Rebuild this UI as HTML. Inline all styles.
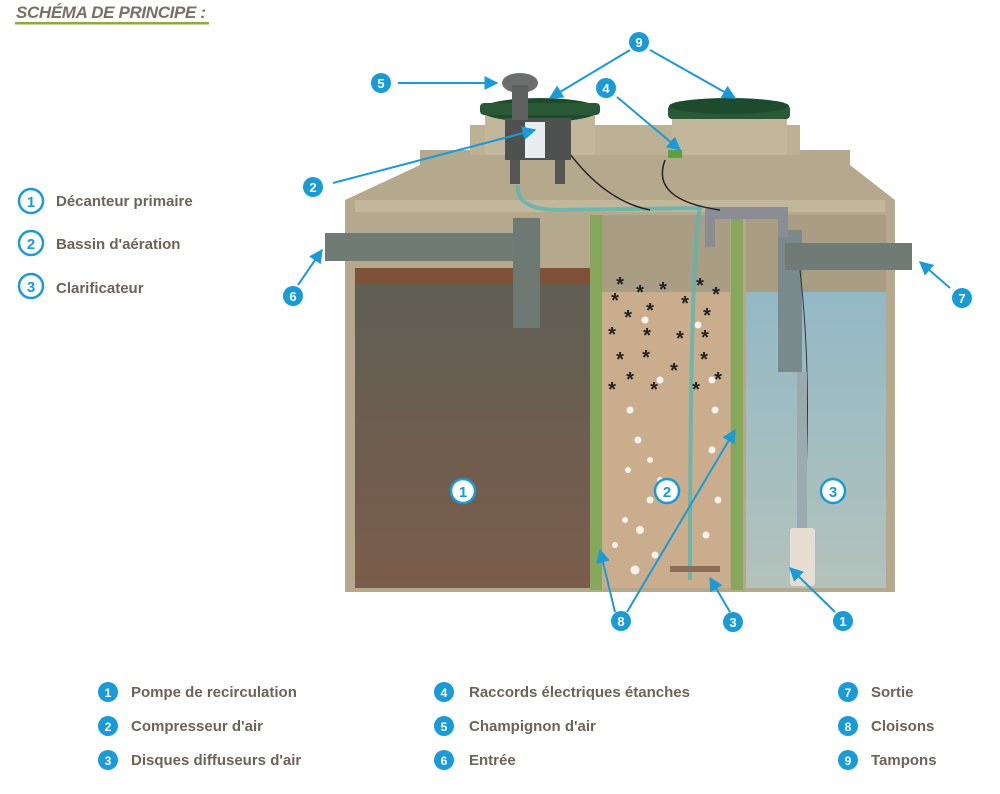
<!DOCTYPE html>
<html><head><meta charset="utf-8"><style>
html,body{margin:0;padding:0;background:#fff;width:1000px;height:794px;overflow:hidden}
svg{display:block}
text{font-family:"Liberation Sans",sans-serif}
</style></head><body>
<svg width="1000" height="794" viewBox="0 0 1000 794" xmlns="http://www.w3.org/2000/svg">
<defs>
<linearGradient id="c1" x1="0" y1="0" x2="0" y2="1"><stop offset="0" stop-color="#5e5e56"/><stop offset="1" stop-color="#7a5d4a"/></linearGradient>
<linearGradient id="c3" x1="0" y1="0" x2="0" y2="1"><stop offset="0" stop-color="#93b9c6"/><stop offset="1" stop-color="#b3c2bb"/></linearGradient>
<marker id="ar" viewBox="0 0 10 10" refX="9" refY="5" markerWidth="7" markerHeight="7" orient="auto"><path d="M0,0 L10,5 L0,10 z" fill="#1a9ad6"/></marker>
</defs>
<text x="16" y="18" font-size="17" font-style="italic" font-weight="bold" fill="#7a6f66" textLength="190">SCHÉMA DE PRINCIPE :</text>
<rect x="15" y="22" width="194" height="2.5" fill="#8bab3a"/>

<polygon points="420,150 850,150 850,165 895,200 895,592 345,592 345,200 420,165" fill="#b5a98d"/>
<polygon points="470,125 800,125 800,155 470,155" fill="#bdb195"/>
<polygon points="355,200 885,200 885,212 355,212" fill="#c2b69b"/>
<rect x="485" y="110" width="110" height="45" fill="#c2b69b"/>
<rect x="672" y="110" width="115" height="45" fill="#c2b69b"/>
<ellipse cx="540" cy="110" rx="60" ry="12" fill="#1e4a2e"/>
<rect x="480" y="103" width="120" height="12" rx="4" fill="#2a5a35"/>
<rect x="668" y="105" width="122" height="14" rx="4" fill="#2a5a35"/>
<ellipse cx="729" cy="106" rx="60" ry="8" fill="#1e4a2e"/>
<rect x="355" y="268" width="236" height="320" fill="url(#c1)"/>
<rect x="355" y="268" width="236" height="16" fill="#7e5236"/>
<rect x="602" y="292" width="128" height="296" fill="#c9ad8d"/>
<rect x="602" y="215" width="128" height="77" fill="#a99d83"/>
<rect x="746" y="292" width="140" height="296" fill="url(#c3)"/>
<rect x="746" y="215" width="140" height="77" fill="#a99d83"/>
<rect x="590" y="215" width="12" height="375" fill="#86a85a"/>
<rect x="731" y="215" width="12" height="375" fill="#86a85a"/>
<rect x="325" y="233" width="215" height="28" fill="#707b76"/>
<rect x="513" y="218" width="27" height="110" fill="#6f7974"/>
<rect x="778" y="230" width="24" height="142" fill="#7a8a8c"/>
<rect x="785" y="243" width="127" height="27" fill="#707b76"/>
<rect x="705" y="207" width="82" height="12" fill="#8a8e94"/>
<rect x="705" y="207" width="10" height="40" fill="#8a8e94"/>
<rect x="778" y="207" width="10" height="30" fill="#8a8e94"/>
<path d="M518,185 Q515,210 560,210 L700,208 Q690,260 690,580" stroke="#5ab5b0" stroke-width="4" fill="none" opacity="0.8"/>
<path d="M560,140 Q600,200 650,210" stroke="#222" stroke-width="1.5" fill="none"/>
<path d="M665,160 Q650,200 720,210" stroke="#222" stroke-width="1.5" fill="none"/>
<path d="M800,270 Q815,400 800,560" stroke="#333" stroke-width="1" fill="none"/>
<rect x="790" y="528" width="25" height="58" rx="3" fill="#e8ddd2"/>
<rect x="797" y="372" width="10" height="156" fill="#9aabb0"/>
<rect x="670" y="566" width="50" height="6" fill="#8a6e5a"/>
<rect x="505" y="118" width="66" height="42" fill="#4d5150"/>
<rect x="525" y="122" width="20" height="36" fill="#e8eef0"/>
<rect x="510" y="160" width="10" height="24" fill="#555"/>
<rect x="555" y="160" width="10" height="24" fill="#555"/>
<ellipse cx="520" cy="83" rx="18" ry="10" fill="#6b6e6c"/>
<rect x="512" y="85" width="16" height="35" fill="#5d605e"/>
<rect x="668" y="150" width="14" height="8" fill="#5ea040"/>
<g fill="#fff" opacity="0.85">
<circle cx="630" cy="410" r="3.5"/><circle cx="638" cy="440" r="3.5"/><circle cx="628" cy="470" r="3"/><circle cx="650" cy="500" r="3.5"/><circle cx="640" cy="530" r="4"/><circle cx="655" cy="555" r="3.5"/><circle cx="635" cy="570" r="4.5"/><circle cx="715" cy="410" r="3.5"/><circle cx="712" cy="450" r="3.5"/><circle cx="718" cy="500" r="3.5"/><circle cx="706" cy="535" r="3.5"/><circle cx="660" cy="380" r="3.5"/><circle cx="650" cy="460" r="3"/><circle cx="625" cy="520" r="3"/><circle cx="712" cy="380" r="3.5"/><circle cx="645" cy="320" r="3.5"/><circle cx="698" cy="325" r="3.5"/><circle cx="615" cy="545" r="3"/><circle cx="660" cy="480" r="3"/>
</g>
<g font-size="20" fill="#222" font-weight="bold" text-anchor="middle">
<text x="620" y="291">*</text><text x="640" y="299">*</text><text x="663" y="296">*</text><text x="700" y="292">*</text><text x="716" y="301">*</text><text x="615" y="307">*</text><text x="628" y="324">*</text><text x="650" y="317">*</text><text x="685" y="310">*</text><text x="707" y="322">*</text><text x="612" y="341">*</text><text x="647" y="342">*</text><text x="680" y="345">*</text><text x="705" y="344">*</text><text x="620" y="366">*</text><text x="646" y="364">*</text><text x="674" y="377">*</text><text x="704" y="366">*</text><text x="630" y="386">*</text><text x="612" y="396">*</text><text x="654" y="396">*</text><text x="696" y="396">*</text><text x="718" y="386">*</text>
</g>
<g font-size="15" font-weight="bold" fill="#fff" text-anchor="middle">
<circle cx="463" cy="491" r="12" fill="#fff" stroke="#1a9ad6" stroke-width="2.5"/><text x="463" y="497" fill="#1a9ad6">1</text>
<circle cx="667" cy="491" r="12" fill="#fff" stroke="#1a9ad6" stroke-width="2.5"/><text x="667" y="497" fill="#1a9ad6">2</text>
<circle cx="833" cy="491" r="12" fill="#fff" stroke="#1a9ad6" stroke-width="2.5"/><text x="833" y="497" fill="#1a9ad6">3</text>
</g>
<g stroke="#1a9ad6" stroke-width="2" fill="none" marker-end="url(#ar)">
<line x1="398" y1="83" x2="497" y2="83"/>
<line x1="630" y1="50" x2="550" y2="98"/>
<line x1="650" y1="50" x2="735" y2="98"/>
<line x1="617" y1="97" x2="680" y2="150"/>
<line x1="333" y1="183" x2="535" y2="130"/>
<line x1="298" y1="285" x2="322" y2="250"/>
<line x1="950" y1="288" x2="920" y2="262"/>
<line x1="615" y1="612" x2="600" y2="550"/>
<line x1="627" y1="612" x2="735" y2="430"/>
<line x1="730" y1="612" x2="710" y2="578"/>
<line x1="835" y1="612" x2="790" y2="568"/>
</g>
<g font-size="13" font-weight="bold" fill="#fff" text-anchor="middle">
<circle cx="381" cy="83" r="10" fill="#1a9ad6"/><text x="381" y="88">5</text>
<circle cx="639" cy="42" r="10" fill="#1a9ad6"/><text x="639" y="47">9</text>
<circle cx="606" cy="88" r="10" fill="#1a9ad6"/><text x="606" y="93">4</text>
<circle cx="313" cy="187" r="10" fill="#1a9ad6"/><text x="313" y="192">2</text>
<circle cx="293" cy="296" r="10" fill="#1a9ad6"/><text x="293" y="301">6</text>
<circle cx="962" cy="298" r="10" fill="#1a9ad6"/><text x="962" y="303">7</text>
<circle cx="621" cy="621" r="10" fill="#1a9ad6"/><text x="621" y="626">8</text>
<circle cx="733" cy="622" r="10" fill="#1a9ad6"/><text x="733" y="627">3</text>
<circle cx="843" cy="621" r="10" fill="#1a9ad6"/><text x="843" y="626">1</text>
</g>
<g font-size="15" font-weight="bold">
<circle cx="31" cy="201" r="12" fill="#fff" stroke="#1a9ad6" stroke-width="2.5"/><text x="31" y="207" fill="#1a9ad6" text-anchor="middle">1</text><text x="56" y="206" fill="#6e6259">Décanteur primaire</text>
<circle cx="31" cy="243" r="12" fill="#fff" stroke="#1a9ad6" stroke-width="2.5"/><text x="31" y="249" fill="#1a9ad6" text-anchor="middle">2</text><text x="56" y="249" fill="#6e6259">Bassin d'aération</text>
<circle cx="31" cy="286" r="12" fill="#fff" stroke="#1a9ad6" stroke-width="2.5"/><text x="31" y="292" fill="#1a9ad6" text-anchor="middle">3</text><text x="56" y="293" fill="#6e6259">Clarificateur</text>
</g>
<g font-size="15" font-weight="bold" fill="#6e6259">
<g fill="#1a9ad6"><circle cx="108" cy="692" r="10"/><circle cx="108" cy="726" r="10"/><circle cx="108" cy="760" r="10"/><circle cx="444" cy="692" r="10"/><circle cx="444" cy="726" r="10"/><circle cx="444" cy="760" r="10"/><circle cx="848" cy="692" r="10"/><circle cx="848" cy="726" r="10"/><circle cx="848" cy="760" r="10"/></g>
<g fill="#fff" font-size="12" text-anchor="middle"><text x="108" y="697">1</text><text x="108" y="731">2</text><text x="108" y="765">3</text><text x="444" y="697">4</text><text x="444" y="731">5</text><text x="444" y="765">6</text><text x="848" y="697">7</text><text x="848" y="731">8</text><text x="848" y="765">9</text></g>
<text x="131" y="697">Pompe de recirculation</text>
<text x="131" y="731">Compresseur d'air</text>
<text x="131" y="765">Disques diffuseurs d'air</text>
<text x="469" y="697">Raccords électriques étanches</text>
<text x="469" y="731">Champignon d'air</text>
<text x="469" y="765">Entrée</text>
<text x="871" y="697">Sortie</text>
<text x="871" y="731">Cloisons</text>
<text x="871" y="765">Tampons</text>
</g>
</svg>
</body></html>
